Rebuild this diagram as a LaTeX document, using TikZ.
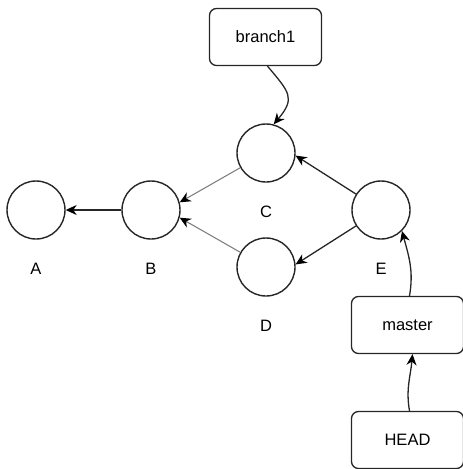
\documentclass[tikz,border=0pt]{standalone}
\usepackage{fontspec}
\setmainfont{Liberation Sans}
\usetikzlibrary{arrows.meta}
\begin{document}
\begin{tikzpicture}[x=1pt,y=-1pt,
  font=\fontsize{16.5}{19}\selectfont,
  commit/.style={circle,draw=black!85,line width=1.4pt,minimum size=58pt,inner sep=0pt},
  ref/.style={rectangle,rounded corners=7pt,draw=black!85,line width=1.3pt,minimum width=112pt,minimum height=57pt,inner sep=0pt},
  lbl/.style={inner sep=0pt},
  arr/.style={draw=black!85,line width=1.3pt,-{Stealth[length=11pt,width=10pt,inset=3.5pt,color=black]}},
  farr/.style={arr,draw=black!50,line width=1.1pt},
]
\useasboundingbox (0,0) rectangle (463,469);

% commits
\node[commit] (A) at (36,210) {};
\node[commit] (B) at (151,210) {};
\node[commit] (C) at (266,153) {};
\node[commit] (D) at (266,267) {};
\node[commit] (E) at (381,210) {};

% commit labels
\node[lbl] (lA) at (36,269) {A};
\node[lbl] (lB) at (151,269) {B};
\node[lbl] (lC) at (266,212) {C};
\node[lbl] (lD) at (266,326) {D};
\node[lbl] (lE) at (381,269) {E};

% references
\node[ref] (b1) at (265.5,37) {branch1};
\node[ref] (master) at (407.5,325) {master};
\node[ref] (head) at (407.5,440) {HEAD};

% parent links
\draw[arr] (B) -- (A);
\draw[farr] (C) -- (B.15);
\draw[farr] (D) -- (B.-15);
\draw[arr] (E) -- (C.-5);
\draw[arr] (E) -- (D.5);

% reference pointers
\draw[arr] ([xshift=2pt]b1.south) to[out=-50,in=50,looseness=1.5] (C.75);
\draw[arr] ([xshift=2pt]master.north) to[out=80,in=-75] (E.-45);
\draw[arr] ([xshift=2pt]head.north) to[out=100,in=-95] ([xshift=5pt]master.south);
\end{tikzpicture}
\end{document}
